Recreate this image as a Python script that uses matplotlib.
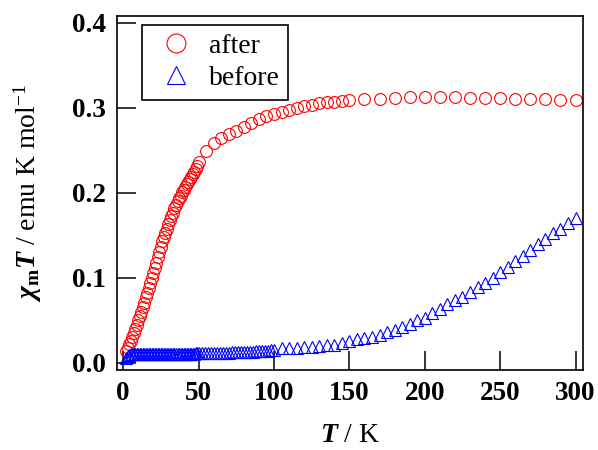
import matplotlib
matplotlib.use("Agg")
import matplotlib.pyplot as plt

plt.rcParams["font.family"] = ["Liberation Serif", "DejaVu Serif"]
plt.rcParams["mathtext.fontset"] = "custom"
plt.rcParams["mathtext.rm"] = "Liberation Serif"
plt.rcParams["mathtext.it"] = "Liberation Serif:italic"
plt.rcParams["mathtext.bf"] = "Liberation Serif:bold"
plt.rcParams["mathtext.bfit"] = "Liberation Serif:bold:italic"

# chi_m T after (red circles)
t_after = [2, 3, 4, 5, 6, 7, 8, 9, 10, 11, 12, 13, 14, 15, 16, 17, 18, 19, 20,
           21, 22, 23, 24, 25, 26, 27, 28, 29, 30, 31, 32, 33, 34, 35, 36, 37, 38,
           39, 40, 41, 42, 43, 44, 45, 46, 47, 48, 49, 50,
           55, 60, 65, 70, 75, 80, 85, 90, 95, 100, 105, 110, 115, 120, 125, 130,
           135, 140, 145, 150,
           160, 170, 180, 190, 200, 210, 220, 230, 240, 250, 260, 270, 280, 290, 300]
chi_after = [0.014, 0.018, 0.022, 0.026, 0.031, 0.035, 0.040, 0.045, 0.050, 0.055,
             0.060, 0.066, 0.071, 0.077, 0.082, 0.088, 0.094, 0.100, 0.106,
             0.112, 0.118, 0.125, 0.131, 0.137, 0.143, 0.148, 0.153, 0.158, 0.163,
             0.168, 0.173, 0.177, 0.182, 0.186, 0.190, 0.194, 0.197, 0.201, 0.204,
             0.207, 0.210, 0.213, 0.216, 0.219, 0.222, 0.225, 0.228, 0.232, 0.236,
             0.249, 0.259, 0.265, 0.269, 0.273, 0.278, 0.282, 0.287, 0.290, 0.293,
             0.295, 0.298, 0.300, 0.302, 0.304, 0.306, 0.307, 0.307, 0.308, 0.309,
             0.310, 0.311, 0.312, 0.313, 0.313, 0.313, 0.313, 0.312, 0.312, 0.312,
             0.311, 0.311, 0.310, 0.309, 0.309]

# chi_m T before (blue triangles)
t_before = [2, 3, 4, 5, 6, 7, 8, 9, 10, 11, 12, 13, 14, 15, 16, 17, 18, 19, 20,
            21, 22, 23, 24, 25, 26, 27, 28, 29, 30, 31, 32, 33, 34, 35, 36, 37, 38,
            39, 40, 41, 42, 43, 44, 45, 46, 47, 48, 49, 50,
            52, 54, 56, 58, 60, 62, 64, 66, 68, 70, 72, 74, 76, 78, 80, 82, 84, 86,
            88, 90, 92, 94, 96, 98, 100,
            105, 110, 115, 120, 125, 130, 135, 140, 145, 150, 155, 160, 165, 170,
            175, 180, 185, 190, 195, 200, 205, 210, 215, 220, 225, 230, 235, 240,
            245, 250, 255, 260, 265, 270, 275, 280, 285, 290, 295, 300]
chi_before = [0.006, 0.008, 0.009, 0.010, 0.010, 0.010, 0.010, 0.010, 0.010, 0.010,
              0.010, 0.010, 0.010, 0.010, 0.010, 0.010, 0.010, 0.010, 0.010,
              0.0102, 0.0102, 0.0102, 0.0103, 0.0103, 0.0103, 0.0104, 0.0104,
              0.0104, 0.0105, 0.0105, 0.0105, 0.0106, 0.0106, 0.0106, 0.0107,
              0.0107, 0.0107, 0.0108, 0.0108, 0.0108, 0.0109, 0.0109, 0.0109,
              0.0110, 0.0110, 0.0110, 0.0111, 0.0111, 0.0112,
              0.0113, 0.0114, 0.0115, 0.0116, 0.0117, 0.0118, 0.0119, 0.0120,
              0.0121, 0.0122, 0.0123, 0.0124, 0.0125, 0.0126, 0.0128, 0.0130,
              0.0132, 0.0134, 0.0136, 0.0138, 0.0140, 0.0142, 0.0144, 0.0147, 0.0150,
              0.017, 0.0177, 0.018, 0.0185, 0.019, 0.020, 0.021, 0.0216, 0.023,
              0.026, 0.028, 0.029, 0.031, 0.033, 0.036, 0.039, 0.042, 0.046, 0.050,
              0.053, 0.059, 0.064, 0.069, 0.074, 0.078, 0.084, 0.089, 0.094,
              0.100, 0.107, 0.113, 0.120, 0.126, 0.133, 0.140, 0.146, 0.153,
              0.158, 0.165, 0.171]

x_ticks = [0, 50, 100, 150, 200, 250, 300]
y_ticks = [0.0, 0.1, 0.2, 0.3, 0.4]

figure = plt.figure(figsize=(5.98, 4.5), dpi=100)
figure.subplots_adjust(left=0.196, right=0.975, top=0.964, bottom=0.178)
ax = figure.add_subplot()

ax.plot(t_after, chi_after, linestyle="none", marker="o", markersize=8.5,
        markerfacecolor="none", markeredgecolor="red", markeredgewidth=0.8,
        label="after")
ax.plot(t_before, chi_before, linestyle="none", marker="^", markersize=8.5,
        markerfacecolor="none", markeredgecolor="blue", markeredgewidth=0.8,
        label="before")

ax.set_xlim(-4, 305)
ax.set_ylim(-0.0082, 0.408)
ax.set_xticks(x_ticks)
ax.set_yticks(y_ticks)
ax.set_xticklabels([str(v) for v in x_ticks])
ax.set_yticklabels([f"{v:.1f}" for v in y_ticks])

ax.tick_params(direction="in", length=14, width=1.1, labelsize=19.5, pad=8,
               top=False, right=False)
for lbl in ax.get_xticklabels() + ax.get_yticklabels():
    lbl.set_fontweight("bold")

for spine in ax.spines.values():
    spine.set_linewidth(1.2)

ax.set_xlabel(r"$\mathbfit{T}$ / K", fontsize=20, labelpad=12)
ax.set_ylabel(r"$\mathbfit{\chi}_{\mathbf{m}}\mathbfit{T}$ / emu K mol$^{-1}$",
              fontsize=20, labelpad=20)

leg = ax.legend(loc="upper left", fontsize=20, frameon=True, fancybox=False,
                edgecolor="black", framealpha=1, handletextpad=0.3,
                borderpad=0.3, labelspacing=0.25, handlelength=1.8,
                markerscale=1.6, borderaxespad=0,
                bbox_to_anchor=(0.054, 0.975))
leg.get_frame().set_linewidth(1.2)

plt.savefig("out.png", dpi=100, facecolor="white")
plt.close()
